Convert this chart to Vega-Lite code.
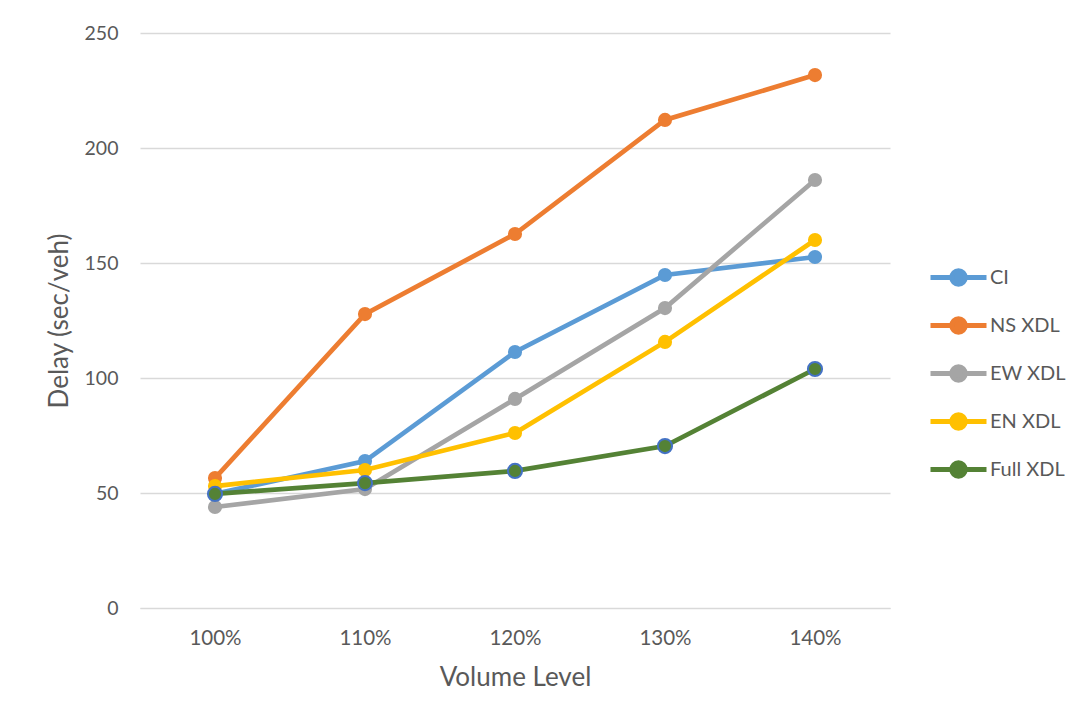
{
  "$schema": "https://vega.github.io/schema/vega-lite/v6.json",
  "autosize": "none",
  "width": 750,
  "height": 575,
  "padding": {"left": 140, "top": 33, "right": 196, "bottom": 120},
  "background": "white",
  "config": {
    "view": {"stroke": null},
    "font": "Lato",
    "axis": {"labelColor": "#595959", "titleColor": "#595959", "labelFont": "Lato", "titleFont": "Lato", "titleFontWeight": "normal"}
  },
  "data": {
    "values": [
      {"level": "100%", "series": "CI", "delay": 49.6},
      {"level": "110%", "series": "CI", "delay": 63.9},
      {"level": "120%", "series": "CI", "delay": 111.3},
      {"level": "130%", "series": "CI", "delay": 144.8},
      {"level": "140%", "series": "CI", "delay": 152.6},
      {"level": "100%", "series": "NS XDL", "delay": 56.5},
      {"level": "110%", "series": "NS XDL", "delay": 127.8},
      {"level": "120%", "series": "NS XDL", "delay": 162.6},
      {"level": "130%", "series": "NS XDL", "delay": 212.2},
      {"level": "140%", "series": "NS XDL", "delay": 231.7},
      {"level": "100%", "series": "EW XDL", "delay": 43.9},
      {"level": "110%", "series": "EW XDL", "delay": 51.7},
      {"level": "120%", "series": "EW XDL", "delay": 90.9},
      {"level": "130%", "series": "EW XDL", "delay": 130.4},
      {"level": "140%", "series": "EW XDL", "delay": 186.1},
      {"level": "100%", "series": "EN XDL", "delay": 53.0},
      {"level": "110%", "series": "EN XDL", "delay": 60.0},
      {"level": "120%", "series": "EN XDL", "delay": 76.1},
      {"level": "130%", "series": "EN XDL", "delay": 115.7},
      {"level": "140%", "series": "EN XDL", "delay": 160.0},
      {"level": "100%", "series": "Full XDL", "delay": 49.6},
      {"level": "110%", "series": "Full XDL", "delay": 54.3},
      {"level": "120%", "series": "Full XDL", "delay": 59.6},
      {"level": "130%", "series": "Full XDL", "delay": 70.4},
      {"level": "140%", "series": "Full XDL", "delay": 103.9}
    ]
  },
  "encoding": {
    "x": {
      "field": "level", "type": "ordinal", "title": "Volume Level",
      "scale": {"paddingInner": 0, "paddingOuter": 0.5},
      "axis": {"labelAngle": 0, "labelFontSize": 20.5, "titleFontSize": 26, "labelPadding": 20, "titlePadding": 16, "ticks": false, "domain": true, "domainColor": "#D9D9D9", "grid": false}
    },
    "y": {
      "field": "delay", "type": "quantitative", "title": "Delay (sec/veh)",
      "scale": {"domain": [0, 250], "nice": false},
      "axis": {"values": [0, 50, 100, 150, 200, 250], "labelFontSize": 19.5, "titleFontSize": 26, "labelPadding": 22, "titlePadding": 12, "ticks": false, "domain": false, "gridColor": "#D9D9D9", "gridWidth": 1.3}
    },
    "color": {
      "field": "series", "type": "nominal",
      "scale": {"domain": ["CI", "NS XDL", "EW XDL", "EN XDL", "Full XDL"], "range": ["#5B9BD5", "#ED7D31", "#A5A5A5", "#FFC000", "#548235"]},
      "legend": {
        "title": null, "orient": "none", "legendX": 788, "legendY": 214,
        "labelFontSize": 20, "labelColor": "#595959", "labelFont": "Lato",
        "symbolType": "M-1,0H-0.24M0.24,0A0.24,0.24 0 1,1 -0.24,0A0.24,0.24 0 1,1 0.24,0M0.24,0H1",
        "symbolSize": 3136, "symbolStrokeWidth": 5, "rowPadding": -13, "labelOffset": 1,
        "encode": {"symbols": {"update": {"fill": {"scale": "color", "field": "value"}, "stroke": {"scale": "color", "field": "value"}, "opacity": {"value": 1}}}}
      }
    }
  },
  "layer": [
    {"mark": {"type": "line", "strokeWidth": 4.7, "strokeCap": "round"}},
    {
      "mark": {"type": "point", "filled": true, "size": 200, "opacity": 1, "strokeWidth": 2},
      "encoding": {
        "stroke": {"condition": {"test": "datum.series === 'Full XDL'", "value": "#4472C4"}, "value": null}
      }
    }
  ]
}
